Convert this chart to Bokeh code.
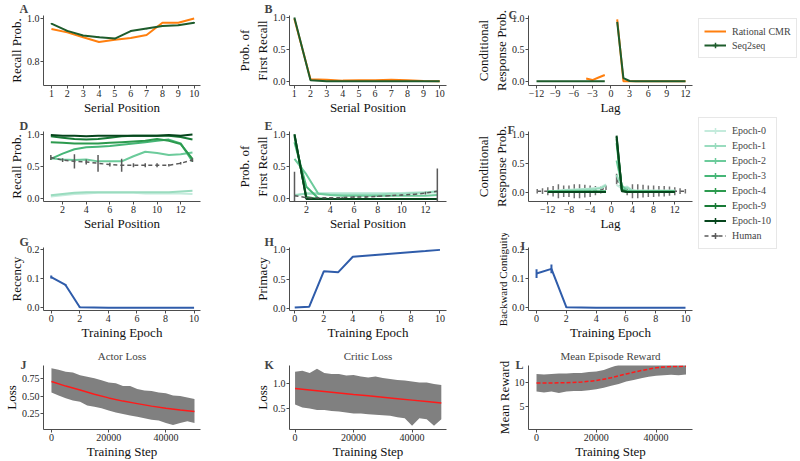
import numpy as np
from bokeh.plotting import figure
from bokeh.layouts import row, column
from bokeh.models import (Range1d, FixedTicker, Title, Legend, LegendItem,
                          NumeralTickFormatter, CustomJSTickFormatter)
from bokeh.embed import file_html
from bokeh.resources import INLINE

nan = float("nan")
FONT = "Liberation Serif"

# ---------------- A-C: Rational CMR vs Seq2seq (10-item lists) ----------------
serial_10 = [1, 2, 3, 4, 5, 6, 7, 8, 9, 10]
rcmr_recall = [0.951, 0.935, 0.912, 0.890, 0.900, 0.909, 0.923, 0.980, 0.980, 1.000]
seq_recall = [0.976, 0.942, 0.920, 0.912, 0.906, 0.941, 0.953, 0.965, 0.968, 0.980]
seq_recall_err = [0.003, 0.003, 0.003, 0.004, 0.003, 0.003, 0.003, 0.003, 0.003, 0.003]
rcmr_first = [0.98, 0.035, 0.03, 0.015, 0.02, 0.02, 0.03, 0.02, 0.01, 0.005]
seq_first = [1.0, 0.02, 0.005, 0.005, 0.005, 0.005, 0.005, 0.005, 0.005, 0.005]
lags_12 = [-12, -11, -10, -9, -8, -7, -6, -5, -4, -3, -2, -1, 0,
           1, 2, 3, 4, 5, 6, 7, 8, 9, 10, 11, 12]
rcmr_crp = [nan, nan, nan, nan, nan, nan, nan, nan, 0.045, 0.02, 0.06, 0.10, nan,
            0.99, 0.0, 0.0, 0.0, 0.0, 0.0, 0.0, 0.0, 0.0, 0.0, 0.0, 0.0]
seq_crp = [0.002, 0.002, 0.002, 0.002, 0.002, 0.002, 0.002, 0.002, 0.002, 0.002, 0.002, 0.002, nan,
           0.95, 0.05, 0.005, 0.002, 0.002, 0.002, 0.002, 0.002, 0.002, 0.002, 0.002, 0.002]

# ---------------- D-F: training epochs vs human (13-item lists) ----------------
serial_13 = [1, 2, 3, 4, 5, 6, 7, 8, 9, 10, 11, 12, 13]
epoch_names = ["Epoch-0", "Epoch-1", "Epoch-2", "Epoch-3", "Epoch-4", "Epoch-9", "Epoch-10"]
epoch_colors = ["#c4ebdc", "#9adcbf", "#6ccb9b", "#46b677", "#2c9a4e", "#187a36", "#06451c"]

ep0_recall = [0.03, 0.05, 0.07, 0.08, 0.09, 0.09, 0.09, 0.09, 0.08, 0.08, 0.08, 0.08, 0.07]
ep1_recall = [0.05, 0.07, 0.09, 0.10, 0.10, 0.10, 0.10, 0.10, 0.10, 0.10, 0.10, 0.11, 0.12]
ep2_recall = [0.63, 0.61, 0.60, 0.61, 0.58, 0.58, 0.58, 0.66, 0.73, 0.71, 0.68, 0.69, 0.72]
ep3_recall = [0.62, 0.70, 0.77, 0.80, 0.81, 0.82, 0.84, 0.86, 0.88, 0.90, 0.92, 0.86, 0.58]
ep4_recall = [0.88, 0.87, 0.86, 0.86, 0.86, 0.87, 0.88, 0.89, 0.90, 0.93, 0.90, 0.85, 0.62]
ep9_recall = [0.97, 0.95, 0.93, 0.92, 0.93, 0.95, 0.97, 0.98, 0.98, 0.98, 0.98, 0.96, 0.92]
ep10_recall = [0.99, 0.98, 0.98, 0.97, 0.98, 0.98, 0.98, 0.98, 0.98, 0.98, 0.99, 0.98, 1.00]
human_recall = [0.64, 0.60, 0.58, 0.57, 0.55, 0.53, 0.52, 0.52, 0.52, 0.52, 0.52, 0.55, 0.60]
human_recall_err = [0.04, 0.03, 0.11, 0.04, 0.13, 0.03, 0.10, 0.03, 0.03, 0.03, 0.02, 0.02, 0.03]

ep0_first = [0.05, 0.09, 0.09, 0.09, 0.09, 0.09, 0.09, 0.09, 0.09, 0.09, 0.10, 0.10, 0.10]
ep1_first = [0.06, 0.08, 0.08, 0.07, 0.07, 0.07, 0.07, 0.07, 0.08, 0.08, 0.09, 0.10, 0.12]
ep2_first = [0.62, 0.38, 0.08, 0.06, 0.05, 0.05, 0.05, 0.05, 0.05, 0.05, 0.05, 0.05, 0.06]
ep3_first = [0.88, 0.19, 0.01, 0.0, 0.0, 0.0, 0.0, 0.0, 0.0, 0.0, 0.0, 0.0, 0.0]
ep4_first = [0.97, 0.03, 0.0, 0.0, 0.0, 0.0, 0.0, 0.0, 0.0, 0.0, 0.0, 0.0, 0.0]
ep9_first = [1.0, 0.0, 0.0, 0.0, 0.0, 0.0, 0.0, 0.0, 0.0, 0.0, 0.0, 0.0, 0.0]
ep10_first = [1.0, 0.0, 0.0, 0.0, 0.0, 0.0, 0.0, 0.0, 0.0, 0.0, 0.0, 0.0, 0.0]
human_first = [0.05, 0.02, 0.02, 0.02, 0.02, 0.03, 0.03, 0.04, 0.05, 0.06, 0.07, 0.09, 0.12]
human_first_err = [0.37, 0.01, 0.01, 0.01, 0.01, 0.01, 0.01, 0.01, 0.01, 0.01, 0.01, 0.02, 0.35]

ep0_crp = [0.01, 0.02, 0.03, 0.04, 0.045, 0.05, 0.055, 0.06, 0.065, 0.075, 0.085, 0.14, nan,
           0.13, 0.07, 0.10, 0.03, 0.03, 0.03, 0.03, 0.03, 0.03, 0.03, 0.03, 0.03]
ep1_crp = [0.01, 0.015, 0.02, 0.03, 0.035, 0.04, 0.045, 0.05, 0.055, 0.06, 0.07, 0.12, nan,
           0.30, 0.08, 0.08, 0.03, 0.02, 0.02, 0.02, 0.02, 0.02, 0.02, 0.02, 0.02]
ep2_crp = [0.02, 0.02, 0.02, 0.02, 0.02, 0.02, 0.02, 0.02, 0.02, 0.02, 0.02, 0.02, nan,
           0.55, 0.12, 0.03, 0.02, 0.02, 0.02, 0.02, 0.02, 0.02, 0.02, 0.02, 0.02]
ep3_crp = [0.01, 0.01, 0.01, 0.01, 0.01, 0.01, 0.01, 0.01, 0.01, 0.01, 0.01, 0.01, nan,
           0.85, 0.05, 0.01, 0.01, 0.01, 0.01, 0.01, 0.01, 0.01, 0.01, 0.01, 0.01]
ep4_crp = [0.01, 0.01, 0.01, 0.01, 0.01, 0.01, 0.01, 0.01, 0.01, 0.01, 0.01, 0.01, nan,
           0.92, 0.04, 0.01, 0.01, 0.01, 0.01, 0.01, 0.01, 0.01, 0.01, 0.01, 0.01]
ep9_crp = [0.005, 0.005, 0.005, 0.005, 0.005, 0.005, 0.005, 0.005, 0.005, 0.005, 0.005, 0.005, nan,
           0.96, 0.03, 0.005, 0.005, 0.005, 0.005, 0.005, 0.005, 0.005, 0.005, 0.005, 0.005]
ep10_crp = [0.005, 0.005, 0.005, 0.005, 0.005, 0.005, 0.005, 0.005, 0.005, 0.005, 0.005, 0.005, nan,
            0.98, 0.02, 0.005, 0.005, 0.005, 0.005, 0.005, 0.005, 0.005, 0.005, 0.005, 0.005]
lags_14 = [-14, -13, -12, -11, -10, -9, -8, -7, -6, -5, -4, -3, -2, -1, 0,
           1, 2, 3, 4, 5, 6, 7, 8, 9, 10, 11, 12, 13, 14]
human_crp = [0.02, 0.02, 0.02, 0.02, 0.02, 0.02, 0.02, 0.02, 0.02, 0.02, 0.02, 0.03, 0.04, 0.08, nan,
             0.23, 0.05, 0.03, 0.02, 0.02, 0.02, 0.02, 0.02, 0.02, 0.02, 0.02, 0.02, 0.02, 0.02]
human_crp_err = [0.04, 0.05, 0.07, 0.09, 0.12, 0.10, 0.10, 0.12, 0.12, 0.11, 0.10, 0.08, 0.06, 0.04, nan,
                 0.09, 0.04, 0.08, 0.12, 0.12, 0.11, 0.10, 0.10, 0.09, 0.09, 0.08, 0.07, 0.05, 0.04]

# ---------------- G-I: summary statistics per training epoch ----------------
epochs = [0, 1, 2, 3, 4, 9, 10]
recency = [0.105, 0.078, 0.002, 0.001, 0.0, 0.0, 0.0]
recency_err = [0.005, 0.002, 0.001, 0.0, 0.0, 0.0, 0.0]
primacy = [0.02, 0.035, 0.63, 0.615, 0.875, 0.97, 0.99]
backward = [0.117, 0.133, 0.002, 0.001, 0.0, 0.0, 0.0]
backward_err = [0.015, 0.015, 0.001, 0.0, 0.0, 0.0, 0.0]

# ---------------- J-L: training curves (raw envelope + smoothed) ----------------
steps_env = [0, 2500, 5000, 7500, 10000, 12500, 15000, 17500, 20000, 22500, 25000,
             27500, 30000, 32500, 35000, 37500, 40000, 42500, 45000, 47500, 50000]
actor_hi = [0.89, 0.87, 0.84, 0.83, 0.79, 0.77, 0.75, 0.72, 0.69, 0.68, 0.64,
            0.64, 0.60, 0.58, 0.57, 0.55, 0.54, 0.51, 0.50, 0.48, 0.46]
actor_lo = [0.55, 0.51, 0.47, 0.44, 0.42, 0.37, 0.35, 0.33, 0.30, 0.27, 0.25,
            0.23, 0.21, 0.19, 0.17, 0.16, 0.125, 0.095, 0.125, 0.15, 0.125]
critic_hi = [1.25, 1.27, 1.22, 1.31, 1.22, 1.20, 1.20, 1.17, 1.18, 1.15, 1.13,
             1.15, 1.12, 1.10, 1.08, 1.07, 1.05, 1.03, 1.03, 1.00, 0.98]
critic_lo = [0.58, 0.52, 0.50, 0.47, 0.47, 0.45, 0.44, 0.42, 0.40, 0.40, 0.38,
             0.37, 0.36, 0.35, 0.32, 0.30, 0.15, 0.30, 0.28, 0.15, 0.28]
reward_hi = [11.9, 11.8, 11.9, 12.0, 12.0, 12.1, 12.1, 12.3, 12.4, 12.7, 13.3,
             13.8, 14.2, 14.4, 14.5, 14.5, 14.5, 14.5, 14.5, 14.5, 14.5]
reward_lo = [8.2, 8.0, 8.2, 7.9, 8.2, 8.3, 8.3, 8.5, 8.7, 9.0, 9.4,
             9.8, 10.3, 10.6, 11.0, 11.3, 11.5, 11.6, 11.7, 11.6, 11.8]
steps_smooth = [0, 5000, 10000, 15000, 20000, 25000, 30000, 35000, 40000, 45000, 50000]
actor_smooth = [0.705, 0.64, 0.585, 0.525, 0.475, 0.43, 0.395, 0.36, 0.33, 0.305, 0.285]
critic_smooth = [0.905, 0.875, 0.845, 0.815, 0.785, 0.757, 0.73, 0.70, 0.67, 0.64, 0.61]
reward_smooth = [10.0, 10.0, 10.05, 10.2, 10.5, 11.1, 11.9, 12.6, 13.2, 13.45, 13.5]

ORANGE = "#ff7f0e"
DKGREEN = "#1e5c2c"
BLUE = "#2f5caa"
HUMAN = "#5a5a5a"
AXIS = "#4d4d4d"

# canvas geometry: (canvas size, border before frame, border after frame)
COLS = [(233, 36, 33), (237, 52, 24), (228, 58, 6)]
ROWS = [(117, 15, 30), (116, 14, 31), (109, 14, 26), (119, 23, 29)]

LAG_FMT = CustomJSTickFormatter(code="return tick < 0 ? '\\u2212' + Math.abs(tick) : String(tick);")


def panel(r, c, xr, yr, xticks, yticks, xlabel, ylabel, letter, letter_dx, letter_gap,
          yfmt=None, xfmt=None, subtitle=None, ylabel_size="13px"):
    w, bl, br = COLS[c]
    h, bt, bb = ROWS[r]
    p = figure(width=w, height=h, x_range=Range1d(*xr), y_range=Range1d(*yr),
               output_backend="svg", toolbar_location=None,
               min_border_left=bl, min_border_right=br,
               min_border_top=bt, min_border_bottom=bb)
    p.grid.visible = False
    p.outline_line_color = None
    p.background_fill_color = "white"
    p.border_fill_color = "white"
    for ax in (p.xaxis[0], p.yaxis[0]):
        ax.axis_line_color = AXIS
        ax.major_tick_line_color = AXIS
        ax.minor_tick_line_color = None
        ax.major_tick_out = 3
        ax.major_tick_in = 0
        ax.major_label_text_font = FONT
        ax.major_label_text_font_size = "10px"
        ax.major_label_text_color = "#262626"
        ax.axis_label_text_font = FONT
        ax.axis_label_text_font_size = "13px"
        ax.axis_label_text_font_style = "normal"
        ax.axis_label_text_color = "#111111"
        ax.major_label_standoff = 1
        ax.axis_label_standoff = 0
    p.yaxis.axis_label_text_font_size = ylabel_size
    p.xaxis.ticker = FixedTicker(ticks=xticks)
    p.yaxis.ticker = FixedTicker(ticks=yticks)
    p.xaxis.axis_label = xlabel
    p.yaxis.axis_label = ylabel
    if yfmt:
        p.yaxis.formatter = NumeralTickFormatter(format=yfmt)
    if xfmt:
        p.xaxis.formatter = xfmt
    # panel letter: shifted left over the y axis; a negative standoff lets it sink
    # towards the top of the frame without taking extra border space
    p.add_layout(Title(text=letter, align="left", offset=letter_dx, standoff=letter_gap,
                       text_font=FONT, text_font_size="12px", text_font_style="bold"),
                 "above")
    if subtitle:
        p.add_layout(Title(text=subtitle, align="center", standoff=0,
                           text_font=FONT, text_font_size="11px", text_font_style="normal"),
                     "above")
    return p


def errbars(p, x, y, e, color, width=1.5):
    y = np.asarray(y, dtype=float)
    e = np.asarray(e, dtype=float)
    p.segment(x0=x, y0=y - e, x1=x, y1=y + e, line_color=color, line_width=width)


# ---- A ----
pA = panel(0, 0, (0.5, 10.4), (0.686, 1.014), serial_10, [0.8, 1.0],
           "Serial Position", "Recall Prob.", "A", -24, -1, yfmt="0.0")
pA.line(serial_10, rcmr_recall, line_color=ORANGE, line_width=2)
pA.line(serial_10, seq_recall, line_color=DKGREEN, line_width=2)
errbars(pA, serial_10, seq_recall, seq_recall_err, DKGREEN)

# ---- B ----
pB = panel(0, 1, (0.7, 10.42), (-0.061, 1.03), serial_10, [0, 0.5, 1.0],
           "Serial Position", "Prob. of\nFirst Recall", "B", -25, -1, yfmt="0.0")
pB.line(serial_10, rcmr_first, line_color=ORANGE, line_width=2)
pB.line(serial_10, seq_first, line_color=DKGREEN, line_width=2)

# ---- C ----
pC = panel(0, 2, (-13.29, 13.13), (-0.067, 1.051), [-12, -9, -6, -3, 0, 3, 6, 9, 12],
           [0, 0.5, 1.0], "Lag", "Conditional\nResponse Prob.", "C", -20, -12,
           yfmt="0.0", xfmt=LAG_FMT)
pC.line(lags_12, np.array(rcmr_crp), line_color=ORANGE, line_width=2)
pC.line(lags_12, np.array(seq_crp), line_color=DKGREEN, line_width=2)

# ---- D ----
recall_sets = [ep0_recall, ep1_recall, ep2_recall, ep3_recall, ep4_recall, ep9_recall, ep10_recall]
pD = panel(1, 0, (0.38, 13.68), (-0.046, 1.046), [2, 4, 6, 8, 10, 12], [0, 0.5, 1.0],
           "Serial Position", "Recall Prob.", "D", -24, -2, yfmt="0.0")
for vals, col in zip(recall_sets, epoch_colors):
    pD.line(serial_13, vals, line_color=col, line_width=2)
pD.line(serial_13, human_recall, line_color=HUMAN, line_width=1.5, line_dash="4 3")
errbars(pD, serial_13, human_recall, human_recall_err, HUMAN)

# ---- E ----
first_sets = [ep0_first, ep1_first, ep2_first, ep3_first, ep4_first, ep9_first, ep10_first]
pE = panel(1, 1, (0.58, 13.77), (-0.04, 1.045), [2, 4, 6, 8, 10, 12], [0, 0.5, 1.0],
           "Serial Position", "Prob. of\nFirst Recall", "E", -25, -2, yfmt="0.0")
for vals, col in zip(first_sets, epoch_colors):
    pE.line(serial_13, vals, line_color=col, line_width=2)
pE.line(serial_13, human_first, line_color=HUMAN, line_width=1.5, line_dash="4 3")
errbars(pE, serial_13, human_first, human_first_err, HUMAN)

# ---- F ----
crp_sets = [ep0_crp, ep1_crp, ep2_crp, ep3_crp, ep4_crp, ep9_crp, ep10_crp]
pF = panel(1, 2, (-15.65, 15.35), (-0.158, 1.051), [-12, -8, -4, 0, 4, 8, 12], [0, 0.5, 1.0],
           "Lag", "Conditional\nResponse Prob.", "F", -21, -10, yfmt="0.0", xfmt=LAG_FMT)
pF.line(lags_14, np.array(human_crp), line_color=HUMAN, line_width=1.5, line_dash="4 3")
errbars(pF, lags_14, human_crp, human_crp_err, "#707070")
for vals, col in zip(crp_sets, epoch_colors):
    pF.line(lags_12, np.array(vals), line_color=col, line_width=2)

# ---- G ----
pG = panel(2, 0, (-0.54, 10.45), (-0.0094, 0.206), [0, 2, 4, 6, 8, 10], [0, 0.1, 0.2],
           "Training Epoch", "Recency", "G", -24, -2, yfmt="0.0")
pG.line(epochs, recency, line_color=BLUE, line_width=2)
errbars(pG, epochs, recency, recency_err, BLUE, 2)

# ---- H ----
pH = panel(2, 1, (-0.36, 10.45), (-0.03, 1.03), [0, 2, 4, 6, 8, 10], [0, 0.5, 1.0],
           "Training Epoch", "Primacy", "H", -25, -2, yfmt="0.0")
pH.line(epochs, primacy, line_color=BLUE, line_width=2)

# ---- I ----
pI = panel(2, 2, (-0.54, 10.47), (-0.0094, 0.206), [0, 2, 4, 6, 8, 10], [0, 0.1, 0.2],
           "Training Epoch", "Backward Contiguity", "I", -8, -10, yfmt="0.0", ylabel_size="11px")
pI.line(epochs, backward, line_color=BLUE, line_width=2)
errbars(pI, epochs, backward, backward_err, BLUE, 2)

# ---- J ----
pJ = panel(3, 0, (-2780, 52100), (0.033, 0.928), [0, 20000, 40000], [0.25, 0.5, 0.75],
           "Training Step", "Loss", "J", -23, -12, yfmt="0.00", subtitle="Actor Loss")
pJ.varea(x=steps_env, y1=actor_lo, y2=actor_hi, fill_color="#808080")
pJ.line(steps_smooth, actor_smooth, line_color="#ff1a1a", line_width=1.5)

# ---- K ----
pK = panel(3, 1, (-1900, 51770), (0.072, 1.375), [0, 20000, 40000], [0.5, 1.0],
           "Training Step", "Loss", "K", -25, -12, yfmt="0.0", subtitle="Critic Loss")
pK.varea(x=steps_env, y1=critic_lo, y2=critic_hi, fill_color="#808080")
pK.line(steps_smooth, critic_smooth, line_color="#ff1a1a", line_width=1.5)

# ---- L ----
pL = panel(3, 2, (-2680, 52170), (0.26, 13.66), [0, 20000, 40000], [0, 5, 10],
           "Training Step", "Mean Reward", "L", -13, -12, subtitle="Mean Episode Reward")
pL.varea(x=steps_env, y1=reward_lo, y2=reward_hi, fill_color="#808080")
pL.line(steps_smooth, reward_smooth, line_color="#ff1a1a", line_width=1.5, line_dash="4 2")

# ---- legends strip on the right ----
lg = figure(width=102, height=461, x_range=Range1d(0, 1), y_range=Range1d(0, 1),
            output_backend="svg", toolbar_location=None, min_border=0,
            x_axis_location=None, y_axis_location=None)
lg.grid.visible = False
lg.outline_line_color = None

# legend proxies: one point kept outside the visible range so only the key shows
proxy_x = [-1.0]
proxy_y = [-1.0]
r_rcmr = lg.line(x=proxy_x, y=proxy_y, line_color=ORANGE, line_width=2)
r_seq = lg.line(x=proxy_x, y=proxy_y, line_color=DKGREEN, line_width=2)
r_seq_m = lg.scatter(x=proxy_x, y=proxy_y, marker="cross", size=13,
                     line_color=DKGREEN, line_width=1.5)

items2 = []
for name, col in zip(epoch_names, epoch_colors):
    rl = lg.line(x=proxy_x, y=proxy_y, line_color=col, line_width=2)
    rm = lg.scatter(x=proxy_x, y=proxy_y, marker="cross", size=13, line_color=col, line_width=1.5)
    items2.append(LegendItem(label=name, renderers=[rl, rm]))
r_h = lg.line(x=proxy_x, y=proxy_y, line_color=HUMAN, line_width=1.5, line_dash="4 3")
r_hm = lg.scatter(x=proxy_x, y=proxy_y, marker="cross", size=13, line_color=HUMAN, line_width=1.5)
items2.append(LegendItem(label="Human", renderers=[r_h, r_hm]))

leg_style = dict(label_text_font=FONT, label_text_font_size="10px", glyph_width=22,
                 glyph_height=14, label_height=14, label_standoff=6, spacing=0,
                 padding=5, margin=0, border_line_color="#d0d0d0",
                 background_fill_color="white", background_fill_alpha=1.0)
leg1 = Legend(items=[LegendItem(label="Rational CMR", renderers=[r_rcmr]),
                     LegendItem(label="Seq2seq", renderers=[r_seq, r_seq_m])],
              location=(0, 403), **leg_style)
leg_style2 = dict(leg_style)
leg_style2["label_height"] = 15
leg_style2["glyph_height"] = 15
leg2 = Legend(items=items2, location=(0, 212), **leg_style2)
lg.add_layout(leg1)
lg.add_layout(leg2)

layout = row(column(pA, pD, pG, pJ), column(pB, pE, pH, pK), column(pC, pF, pI, pL), lg)

open("out.html", "w").write(file_html(layout, INLINE))
